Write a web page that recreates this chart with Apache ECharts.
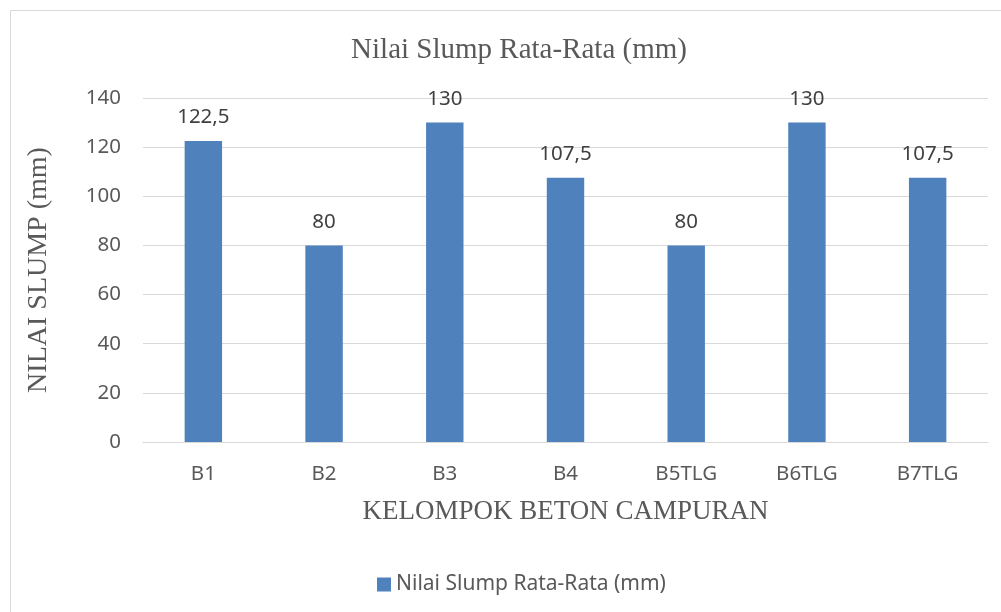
<!DOCTYPE html>
<html><head><meta charset="utf-8">
<script src="https://cdn.jsdelivr.net/npm/echarts@6/dist/echarts.min.js"></script>
<style>html,body{margin:0;padding:0;background:#fff}#c{width:1001px;height:612px}</style>
</head><body><div id="c"></div>
<script>
const categories = ['B1','B2','B3','B4','B5TLG','B6TLG','B7TLG'];
const slumpValues = [122.5, 80, 130, 107.5, 80, 130, 107.5];
const yTicks = {min: 0, max: 140, interval: 20};
const seriesName = 'Nilai Slump Rata-Rata (mm)';

const chart = echarts.init(document.getElementById('c'));
const sans = 'Noto Sans';
const serif = 'Liberation Serif';
chart.setOption({
  animation: false,
  graphic: [{type:'rect', shape:{x:10.5,y:10.5,width:1010,height:620}, style:{fill:'none',stroke:'#D9D9D9',lineWidth:1}}],
  title: {text: seriesName, left: 514, top: 31, textAlign: 'center',
    textStyle: {fontFamily: serif, fontSize: 29, fontWeight: 'normal', color: '#595959'}},
  legend: {data:[seriesName], left: 372, top: 569, itemWidth: 14, itemHeight: 14, icon: 'rect', itemGap: 10,
    textStyle: {fontFamily: sans, fontSize: 21, color: '#595959'}},
  grid: {left: 143, right: 13, top: 98, bottom: 170, containLabel: false},
  xAxis: {type:'category', data: categories,
    name: 'KELOMPOK BETON CAMPURAN', nameLocation: 'middle', nameGap: 56,
    nameTextStyle: {fontFamily: serif, fontSize: 27, color: '#595959'},
    axisLine: {lineStyle:{color:'#D9D9D9'}}, axisTick:{show:false},
    axisLabel: {fontFamily: sans, fontSize: 20.5, color: '#595959', margin: 22}},
  yAxis: {type:'value', min: yTicks.min, max: yTicks.max, interval: yTicks.interval,
    name: 'NILAI SLUMP (mm)', nameLocation:'middle', nameGap: 90,
    nameTextStyle: {fontFamily: serif, fontSize: 28, color: '#595959'},
    axisLine:{show:false}, axisTick:{show:false},
    splitLine:{lineStyle:{color:'#D9D9D9'}},
    axisLabel: {fontFamily: sans, fontSize: 20.5, color: '#595959', margin: 22}},
  series: [{type:'bar', name: seriesName, data: slumpValues, barWidth: '31%',
    itemStyle: {color: '#4F81BD'},
    label: {show: true, position: 'top', distance: 13, fontFamily: sans, fontSize: 20.5, color: '#404040',
      formatter: p => String(p.value).replace('.', ',')}}]
});
</script></body></html>
